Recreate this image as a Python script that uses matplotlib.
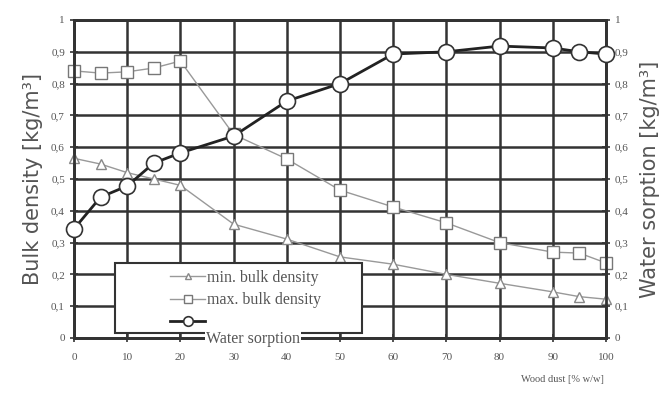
import matplotlib.pyplot as plt
from matplotlib.patches import Rectangle
from matplotlib.ticker import FuncFormatter

# wood dust content [% w/w]
wood_dust = [0, 5, 10, 15, 20, 30, 40, 50, 60, 70, 80, 90, 95, 100]
min_bulk = [0.565, 0.547, 0.52, 0.50, 0.48, 0.358, 0.311, 0.255, 0.232, 0.20, 0.172, 0.145, 0.13, 0.122]
max_bulk = [0.84, 0.833, 0.837, 0.849, 0.871, 0.64, 0.563, 0.465, 0.412, 0.362, 0.30, 0.27, 0.267, 0.236]
water_sorption = [0.343, 0.443, 0.478, 0.55, 0.582, 0.635, 0.745, 0.80, 0.893, 0.90, 0.918, 0.912, 0.90, 0.893]

x_ticks = list(range(0, 101, 10))
y_ticks = [i / 10 for i in range(11)]

serif = ['Liberation Serif', 'DejaVu Serif']
gray_txt = '#555555'


def comma_fmt(v, pos):
    if abs(v) < 1e-9:
        return '0'
    if abs(v - 1) < 1e-9:
        return '1'
    return f'{v:.1f}'.replace('.', ',')


fig = plt.figure(figsize=(6.69, 3.96), dpi=100)
ax = fig.add_axes([0.1106, 0.1465, 0.7952, 0.803])
ax2 = ax.twinx()

ax.plot(wood_dust, min_bulk, color='#999999', lw=1.0, marker='^', ms=7,
        mfc='white', mec='#888888', mew=1.0, zorder=3, clip_on=False,
        label='min. bulk density')
ax.plot(wood_dust, max_bulk, color='#999999', lw=1.0, marker='s', ms=9,
        mfc='white', mec='#777777', mew=1.0, zorder=3, clip_on=False,
        label='max. bulk density')
ax2.plot(wood_dust, water_sorption, color='#222222', lw=2.0, marker='o', ms=11.5,
         mfc='white', mec='#333333', mew=1.2, zorder=4, clip_on=False, label=' ')

for a in (ax, ax2):
    a.set_xlim(0, 100)
    a.set_ylim(0, 1)
    a.set_yticks(y_ticks)
    a.yaxis.set_major_formatter(FuncFormatter(comma_fmt))
    a.tick_params(direction='inout', length=6, width=1.2, color='#333333',
                  labelsize=8, labelcolor=gray_txt)
    a.tick_params(axis='x', pad=8)
    for lbl in a.get_yticklabels() + a.get_xticklabels():
        lbl.set_family(serif)
    for s in a.spines.values():
        s.set_color('#333333')
        s.set_linewidth(2)

ax.set_xticks(x_ticks)
ax.grid(True, color='#333333', lw=1.8)
ax.set_axisbelow(True)

ax.set_ylabel('Bulk density [kg/m³]', fontsize=15, color=gray_txt, labelpad=6)
ax2.set_ylabel('Water sorption [kg/m³]', fontsize=15, color=gray_txt, labelpad=8)
fig.text(0.84, 0.035, 'Wood dust [% w/w]', fontsize=7.5, color=gray_txt,
         family=serif, ha='center')

# legend box
ax2.add_patch(Rectangle((0.077, 0.016), 0.464, 0.22, transform=ax2.transAxes,
                        facecolor='white', edgecolor='#333333', lw=1.5, zorder=9))
h1, l1 = ax.get_legend_handles_labels()
h2, l2 = ax2.get_legend_handles_labels()
leg = ax2.legend(h1 + h2, l1 + l2, loc='upper left', bbox_to_anchor=(0.16, 0.25),
                 frameon=False, prop={'family': serif, 'size': 11.5},
                 labelcolor=gray_txt, markerscale=0.6, handlelength=2.2,
                 handletextpad=0.1, borderpad=0.2, labelspacing=0.42)
leg.set_zorder(10)
ax2.text(0.248, -0.004, 'Water sorption', transform=ax2.transAxes, fontsize=11.5,
         family=serif, color=gray_txt, va='center', zorder=11,
         bbox=dict(facecolor='white', edgecolor='none', pad=0.5))

fig.savefig('out.png', dpi=100)
